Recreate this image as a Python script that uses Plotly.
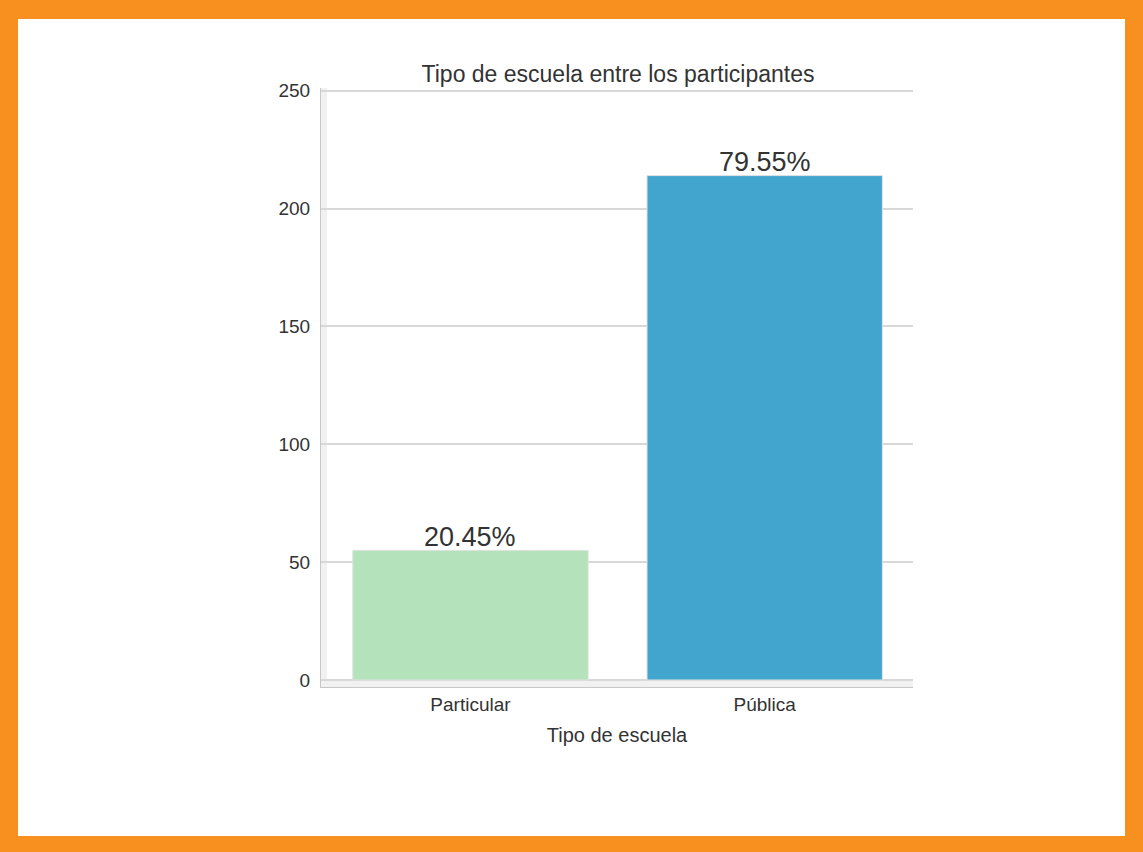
import plotly.graph_objects as go

# Participants by school type
categories = ["Particular", "Pública"]
counts = [55, 214]
bar_colors = ["#B3E2BB", "#42A5CD"]
y_ticks = [0, 50, 100, 150, 200, 250]

total = sum(counts)
pct_labels = [f"{c / total * 100:.2f}%" for c in counts]

W, H = 1143, 852
L, R, T, B = 321, 230, 88, 165
PW, PH = W - L - R, H - T - B

def px_x(px):
    return (px - L) / PW

def px_y(py):
    return (H - B - py) / PH

FONT = "Liberation Sans, Arial, sans-serif"
TXT = "#333333"

fig = go.Figure(
    go.Bar(
        x=categories,
        y=counts,
        width=0.8,
        marker=dict(color=bar_colors, line=dict(color="#e2e2e2", width=1)),
        hoverinfo="x+y",
    )
)

# percentage labels above each bar
for cat, val, lab in zip(categories, counts, pct_labels):
    fig.add_annotation(
        x=cat, y=val, text=lab, showarrow=False, yanchor="bottom",
        yshift=-3.5, font=dict(family=FONT, size=27, color=TXT),
    )

shapes = [
    # light bands along the left and bottom spines
    dict(type="rect", xref="paper", yref="y", x0=0, x1=1, y0=-2.97, y1=0,
         fillcolor="#f1f1f1", line=dict(width=0), layer="below"),
    dict(type="rect", xref="paper", yref="paper", x0=0, x1=px_x(327), y0=0, y1=1,
         fillcolor="#f1f1f1", line=dict(width=0), layer="below"),
]

# orange frame around the page
ORANGE = "#F7901E"
frame = [
    (0, 0, 18, H),
    (W - 18, 0, W, H),
    (0, 0, W, 19),
    (0, H - 16, W, H),
]
for x0, y0, x1, y1 in frame:
    shapes.append(dict(
        type="rect", xref="paper", yref="paper",
        x0=px_x(x0), x1=px_x(x1), y0=px_y(y1), y1=px_y(y0),
        fillcolor=ORANGE, line=dict(width=0), layer="above",
    ))

fig.update_layout(
    width=W, height=H,
    margin=dict(l=L, r=R, t=T, b=B, autoexpand=False),
    paper_bgcolor="white", plot_bgcolor="white",
    font=dict(family=FONT, color=TXT),
    showlegend=False,
    title=dict(
        text="Tipo de escuela entre los participantes",
        x=px_x(618), xref="paper", xanchor="center",
        y=1 - 82 / H, yref="container", yanchor="bottom",
        font=dict(family=FONT, size=23, color=TXT),
    ),
    xaxis=dict(
        range=[-0.508, 1.504], showgrid=False, zeroline=False,
        showline=True, linecolor="#c8c8c8", linewidth=1,
        ticks="", ticklabelstandoff=0,
        tickfont=dict(family=FONT, size=19, color=TXT),
        title=dict(text="Tipo de escuela", standoff=14,
                   font=dict(family=FONT, size=20, color=TXT)),
        automargin=False, fixedrange=True,
    ),
    yaxis=dict(
        range=[-2.97, 251.15], tickvals=y_ticks,
        showgrid=True, gridcolor="#d8d8d8", gridwidth=1.5,
        zeroline=False, showline=True, linecolor="#c8c8c8", linewidth=1,
        ticks="", ticklabelstandoff=6,
        tickfont=dict(family=FONT, size=19, color=TXT),
        automargin=False, fixedrange=True,
    ),
    shapes=shapes,
)

fig.write_html("out.html")
